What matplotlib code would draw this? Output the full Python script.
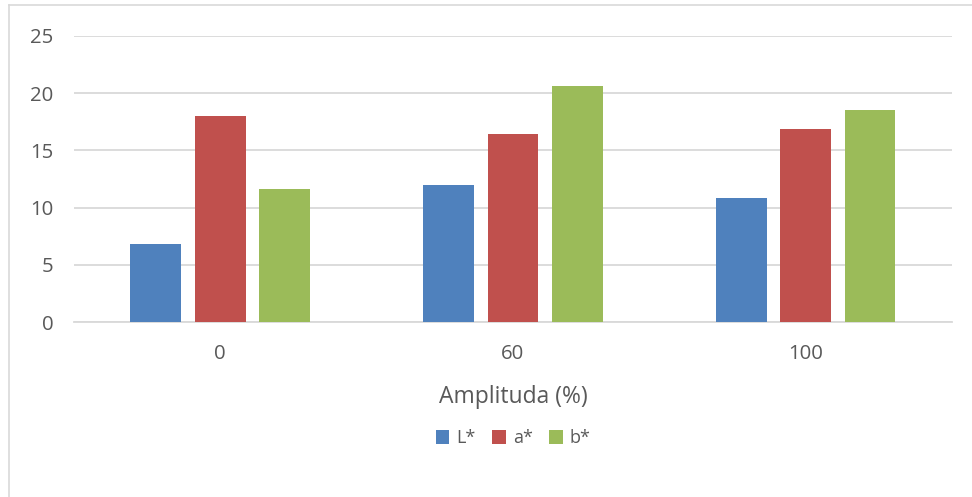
import numpy as np
import matplotlib
matplotlib.use('Agg')
import matplotlib.pyplot as plt
from matplotlib.lines import Line2D

plt.rcParams['font.family'] = ['Open Sans', 'DejaVu Sans']

categorias = ['0', '60', '100']
series = ['L*', 'a*', 'b*']
L_vals = [6.8, 12.0, 10.8]
a_vals = [18.0, 16.4, 16.9]
b_vals = [11.6, 20.6, 18.5]
cores = ['#4F81BD', '#C0504D', '#9BBB59']

texto = '#595959'
grade = '#D9D9D9'

fig = plt.figure(figsize=(9.72, 4.97), dpi=100)
ax = fig.add_axes([0.0761, 0.3515, 0.9033, 0.5767])

x = np.arange(len(categorias))
largura = 0.174
passo = 0.22
for i, (vals, cor, nome) in enumerate(zip([L_vals, a_vals, b_vals], cores, series)):
    ax.bar(x + (i - 1) * passo, vals, width=largura, color=cor, label=nome,
           zorder=3, edgecolor='none')

ax.set_xlim(-0.5, len(categorias) - 0.5)
ax.set_ylim(0, 25)
ax.set_yticks(range(0, 26, 5))
ax.set_xticks(x)
ax.set_xticklabels(categorias)
ax.yaxis.grid(True, color=grade, linewidth=1.3, zorder=0)
ax.set_axisbelow(True)
for s in ['top', 'right', 'left']:
    ax.spines[s].set_visible(False)
ax.spines['bottom'].set_color(grade)
ax.spines['bottom'].set_linewidth(1.3)
ax.tick_params(axis='both', length=0, labelsize=14.7, colors=texto)
ax.tick_params(axis='y', pad=15)
ax.tick_params(axis='x', pad=15.5)

ax.set_xlabel('Amplituda (%)', fontsize=16.5, color=texto, labelpad=15)

leg = fig.legend(loc='center', bbox_to_anchor=(0.528, 0.118), ncol=3,
                 frameon=False, fontsize=13, handlelength=0.75, handleheight=0.75,
                 handletextpad=0.4, columnspacing=0.9, labelcolor=texto)

# borda da área do gráfico
fig.add_artist(Line2D([9 / 972, 9 / 972], [0, 1 - 5 / 497], color=grade,
                      linewidth=1.2, transform=fig.transFigure))
fig.add_artist(Line2D([9 / 972, 1], [1 - 5 / 497, 1 - 5 / 497], color=grade,
                      linewidth=1.2, transform=fig.transFigure))

fig.savefig('out.png', dpi=100)
